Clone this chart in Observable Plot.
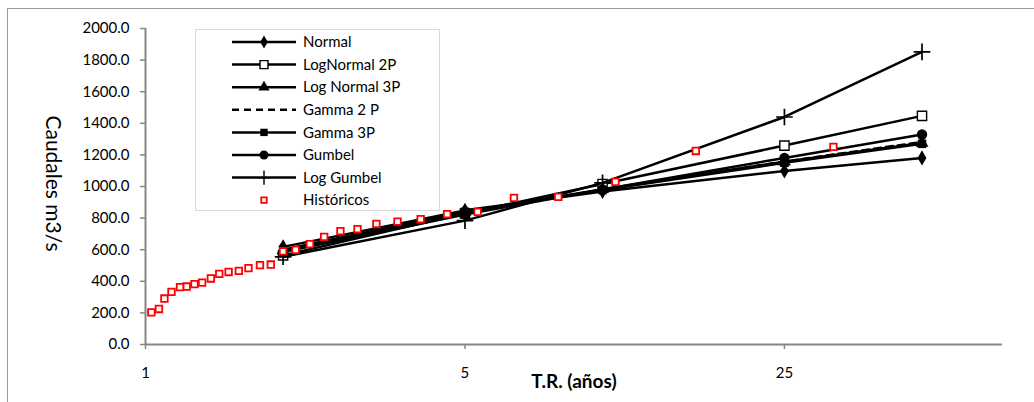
<!DOCTYPE html>
<html><head><meta charset="utf-8">
<script src="https://cdn.jsdelivr.net/npm/d3@7"></script>
<script src="https://cdn.jsdelivr.net/npm/@observablehq/plot@0.6"></script>
<style>
body{margin:0;background:#fff;}
#wrap{position:relative;width:1034px;height:402px;overflow:hidden;font-family:Lato,"Open Sans",sans-serif;background:#fff;}
#frame{position:absolute;left:7px;top:8px;width:1100px;height:500px;border-left:1px solid #9a9a9a;border-top:1px solid #9a9a9a;pointer-events:none;}
#legend{position:absolute;left:195px;top:29px;width:245px;height:182px;border:1px solid #d9d9d9;background:#fff;box-sizing:border-box;}
#legend svg{display:block}
</style></head>
<body><div id="wrap"><div id="chart"></div><div id="frame"></div><div id="legend"></div></div>
<script>
// Return periods (years) for fitted distributions
const T = [2, 5, 10, 25, 50];
const normal      = [618, 849, 969, 1098, 1181];
const logNormal2P = [564, 830, 1016, 1259, 1447];
const logNormal3P = [595, 838, 982, 1157, 1275];
const gamma2P     = [590, 836, 980, 1158, 1282];
const gamma3P     = [600, 840, 977, 1150, 1270];
const gumbel      = [585, 823, 981, 1181, 1329];
const logGumbel   = [555, 784, 1023, 1440, 1852];

// Historical (observed) values and their plotting return periods
const histT = [32, 16, 10.67, 8, 6.4, 5.33, 4.57, 4, 3.56, 3.2, 2.91, 2.67, 2.46, 2.29, 2.13, 2,
  1.88, 1.78, 1.68, 1.6, 1.52, 1.45, 1.39, 1.33, 1.28, 1.23, 1.19, 1.14, 1.10, 1.07, 1.03];
const histQ = [1251, 1225, 1029, 934, 928, 839, 825, 793, 778, 763, 730, 717, 681, 635, 599, 590,
  506, 502, 483, 466, 459, 447, 418, 392, 382, 367, 363, 333, 291, 225, 203];

const xTicks = [1, 5, 25];
const yTicks = [0, 200, 400, 600, 800, 1000, 1200, 1400, 1600, 1800, 2000];
const seriesNames = ["Normal", "LogNormal 2P", "Log Normal 3P", "Gamma 2 P", "Gamma 3P", "Gumbel", "Log Gumbel"];
const histName = "Históricos";
const yLabel = "Caudales m3/s";
const xLabel = "T.R. (años)";

const seriesValues = [normal, logNormal2P, logNormal3P, gamma2P, gamma3P, gumbel, logGumbel];
const styles = [
  {symbol: "diamond", fill: "black", stroke: "none", r: 4.6},
  {symbol: "square", fill: "white", stroke: "black", r: 5.2},
  {symbol: "triangle", fill: "black", stroke: "none", r: 4.8},
  null,
  {symbol: "square", fill: "black", stroke: "none", r: 4.8},
  {symbol: "circle", fill: "black", stroke: "none", r: 5.2},
  {symbol: "plus", fill: "none", stroke: "black", r: 5.4}
];

const rows = seriesNames.flatMap((name, i) => T.map((t, j) => ({name, i, t, q: seriesValues[i][j]})));
const hist = histT.map((t, j) => ({t, q: histQ[j]}));

const marks = [];
seriesNames.forEach((name, i) => {
  const d = rows.filter(r => r.i === i);
  marks.push(Plot.line(d, {x: "t", y: "q", stroke: "black", strokeWidth: 2.5,
    strokeDasharray: styles[i] ? null : "7,5"}));
  if (styles[i]) {
    const s = styles[i];
    marks.push(Plot.dot(d, {x: "t", y: "q", symbol: () => s.symbol, r: s.r, fill: s.fill,
      stroke: s.stroke, strokeWidth: s.symbol === "plus" ? 1.7 : 1.4}));
  }
});
marks.push(Plot.dot(hist, {x: "t", y: "q", symbol: () => "square", r: 3.7, fill: "white", stroke: "#ff0000", strokeWidth: 1.8}));

const chart = Plot.plot({
  width: 1034, height: 402,
  marginLeft: 145, marginRight: 32, marginTop: 28, marginBottom: 58,
  style: {fontFamily: "Lato, 'Open Sans', sans-serif", background: "transparent", overflow: "visible"},
  x: {type: "log", domain: [1, 75], axis: null},
  y: {domain: [0, 2000], axis: null},
  marks: [
    Plot.axisY(yTicks, {label: null, tickSize: 5, tickPadding: 11, tickFormat: d => d.toFixed(1), fontSize: 15,
      stroke: "#868686", strokeWidth: 1.5, fill: "black"}),
    Plot.axisX(xTicks, {label: null, tickSize: 5, tickPadding: 18, tickFormat: d => String(d), fontSize: 15,
      stroke: "#868686", strokeWidth: 1.5, fill: "black"}),
    Plot.ruleX([1], {y1: 0, y2: 2000, stroke: "#868686", strokeWidth: 2}),
    Plot.ruleY([0], {stroke: "#868686", strokeWidth: 2}),
    Plot.text([yLabel], {frameAnchor: "left", textAnchor: "middle", dx: -93, dy: -3, rotate: 90, fontSize: 21, fill: "black"}),
    Plot.text([xLabel], {frameAnchor: "bottom", dy: 43, fontSize: 19, fontWeight: "bold", fill: "black"}),
    ...marks
  ]
});
document.getElementById("chart").appendChild(chart);

// Legend
const lw = 243, lh = 180;
const lsvg = d3.select("#legend").append("svg").attr("width", lw).attr("height", lh)
  .style("font-family", "Lato, 'Open Sans', sans-serif");
const symMap = {diamond: d3.symbolDiamond, square: d3.symbolSquare, triangle: d3.symbolTriangle,
  circle: d3.symbolCircle, plus: d3.symbolPlus};
const entries = seriesNames.map((n, i) => ({name: n, style: styles[i], type: "series"}))
  .concat([{name: histName, type: "hist"}]);
entries.forEach((e, k) => {
  const cy = 12 + k * 22.6;
  const g = lsvg.append("g").attr("transform", `translate(0,${cy})`);
  if (e.type === "series") {
    g.append("line").attr("x1", 36).attr("x2", 100).attr("y1", 0).attr("y2", 0)
      .attr("stroke", "black").attr("stroke-width", 2.5)
      .attr("stroke-dasharray", e.style ? null : "7,5");
    if (e.style) {
      const s = e.style;
      g.append("path").attr("transform", "translate(68,0)")
        .attr("d", d3.symbol(symMap[s.symbol], Math.PI * s.r * s.r * 0.75)())
        .attr("fill", s.fill).attr("stroke", s.stroke).attr("stroke-width", 1.4);
    }
  } else {
    g.append("path").attr("transform", "translate(68,0)")
      .attr("d", d3.symbol(d3.symbolSquare, 30)())
      .attr("fill", "white").attr("stroke", "#ff0000").attr("stroke-width", 1.8);
  }
  g.append("text").attr("x", 107).attr("y", 0).attr("dy", "0.35em").attr("font-size", 15).text(e.name);
});
</script>
</body></html>
